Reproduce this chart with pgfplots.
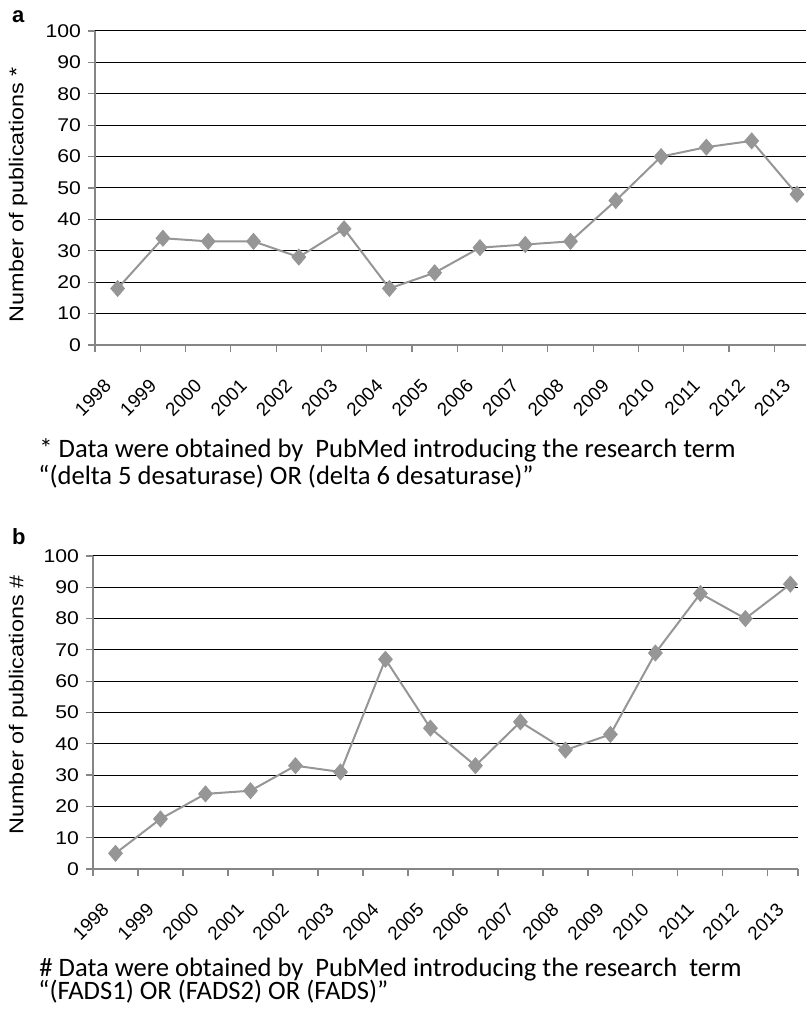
\documentclass[border=0pt]{standalone}
\usepackage{fontspec}
\setmainfont{Liberation Sans}
\newfontfamily\ytickfont{Liberation Sans}[FakeStretch=1.15]
\newfontfamily\ylabfont{Liberation Sans}[FakeStretch=1.17]
\newfontfamily\calibri{Carlito}
\usepackage{pgfplots}
\pgfplotsset{compat=1.18}
\definecolor{linegray}{RGB}{150,150,150}
\definecolor{axisgray}{RGB}{134,134,134}
\pgfplotsset{mystyle/.style={
  scale only axis, clip=false,
  xmin=-0.5, ymin=0, ymax=100,
  axis x line*=bottom, axis y line*=left,
  axis line style={axisgray, line width=0.6pt, -},
  xtick={0,...,15},
  xticklabels={1998,1999,2000,2001,2002,2003,2004,2005,2006,2007,2008,2009,2010,2011,2012,2013},
  major x tick style={draw=none},
  minor tick length=3.5pt,
  major tick length=3.5pt,
  ytick={0,10,...,100},
  tick align=outside,
  tick style={axisgray, line width=0.6pt},
  ymajorgrids, grid style={black, line width=0.5pt},
  xticklabel style={xshift=-2.5pt, yshift=-13pt, rotate=45, anchor=east, font=\fontsize{9.4}{10}\selectfont},
  yticklabel style={font=\ytickfont\fontsize{9.2}{10}\selectfont},
  ylabel style={font=\ylabfont\fontsize{10}{11}\selectfont, rotate=0, anchor=center},
  /pgf/number format/assume math mode=true,
}}
\pgfplotsset{myplot/.style={linegray, line width=1pt, mark=diamond*, mark size=4pt, mark options={xscale=1.15, fill=linegray, draw=linegray, line width=0.4pt}}}
\begin{document}
\begin{tikzpicture}
\begin{axis}[mystyle, at={(47.5pt,335pt)}, anchor=south west, width=355.5pt, height=157pt, xmax=15.2,
  minor xtick={-0.5,0.5,...,14.5},
  ylabel={Number of publications *}, ylabel style={at={(axis description cs:-0.108,0.479)}}]
\addplot[myplot] coordinates {(0,18) (1,34) (2,33) (3,33) (4,28) (5,37) (6,18) (7,23) (8,31) (9,32) (10,33) (11,46) (12,60) (13,63) (14,65) (15,48)};
\end{axis}
\begin{axis}[mystyle, at={(46.5pt,73pt)}, anchor=south west, width=352.5pt, height=156.5pt, xmax=15.17,
  minor xtick={-0.5,0.5,...,14.5,15.17},
  ylabel={Number of publications \#}, ylabel style={at={(axis description cs:-0.106,0.524)}}]
\addplot[myplot] coordinates {(0,5) (1,16) (2,24) (3,25) (4,33) (5,31) (6,67) (7,45) (8,33) (9,47) (10,38) (11,43) (12,69) (13,88) (14,80) (15,91)};
\end{axis}
\node[anchor=base west, inner sep=0pt, font=\bfseries\fontsize{11}{12}\selectfont] at (5.8pt,496pt) {a};
\node[anchor=base west, inner sep=0pt, font=\bfseries\fontsize{11}{12}\selectfont] at (5.8pt,235pt) {b};
\node[anchor=base west, inner sep=0pt, font=\calibri\fontsize{13.3}{14}\selectfont] at (19.5pt,278.5pt) {* Data were obtained by\ \ PubMed introducing the research term};
\node[anchor=base west, inner sep=0pt, font=\calibri\fontsize{13.3}{14}\selectfont] at (19pt,265pt) {“(delta 5 desaturase) OR (delta 6 desaturase)”};
\node[anchor=base west, inner sep=0pt, font=\calibri\fontsize{13.3}{14}\selectfont] at (19.5pt,19pt) {\# Data were obtained by\ \ PubMed introducing the research\ \ term};
\node[anchor=base west, inner sep=0pt, font=\calibri\fontsize{13.3}{14}\selectfont] at (19pt,7.5pt) {“(FADS1) OR (FADS2) OR (FADS)”};
\pgfresetboundingbox
\path (0,0) rectangle (403pt,507.5pt);
\end{tikzpicture}
\end{document}
